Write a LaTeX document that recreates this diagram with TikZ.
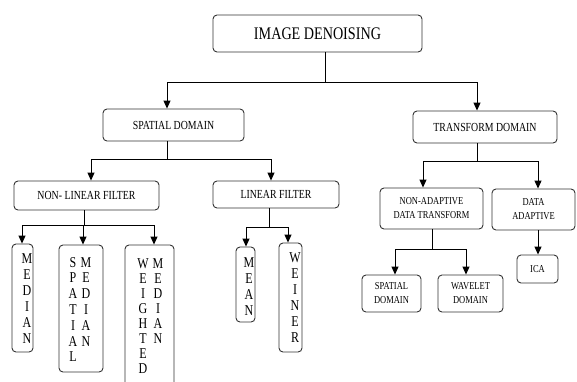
\documentclass[tikz,border=0pt]{standalone}
\usepackage{fontspec}
\setmainfont{Liberation Serif}[FakeStretch=0.8]
\usetikzlibrary{arrows.meta}
\tikzset{
  box/.style={draw=black!80, line width=0.9pt, rounded corners=4pt, inner sep=0pt, align=center},
  big/.style={font=\fontsize{17.7}{20}\selectfont},
  mid/.style={font=\fontsize{12.3}{14}\selectfont},
  small/.style={font=\fontsize{10.6}{14}\selectfont},
  conn/.style={draw=black, line width=0.9pt},
  arr/.style={conn, -{Triangle[length=8pt,width=7pt]}},
  vtext/.style={inner sep=0pt, align=center, anchor=north}
}
\begin{document}
\begin{tikzpicture}[x=1pt,y=-1pt]
\useasboundingbox (0,0) rectangle (577,381);
% boxes
\node[box, big, minimum width=209, minimum height=37] (root) at (317.5,33.5) {IMAGE DENOISING};
\node[box, mid, minimum width=141, minimum height=32] (sd) at (173.5,125) {SPATIAL DOMAIN};
\node[box, mid, minimum width=144, minimum height=32] (td) at (485,127) {TRANSFORM DOMAIN};
\node[box, mid, minimum width=145, minimum height=29] (nlf) at (86.5,195.5) {NON- LINEAR FILTER};
\node[box, mid, minimum width=126, minimum height=27] (lf) at (276,194.5) {LINEAR FILTER};
\node[box, small, minimum width=103, minimum height=41] (nad) at (431.5,208.5) {NON-ADAPTIVE\\DATA TRANSFORM};
\node[box, small, minimum width=83, minimum height=41] (dad) at (533.5,209.5) {DATA\\ADAPTIVE};
\node[box, small, minimum width=59, minimum height=37] (sdom) at (391.5,293.5) {SPATIAL\\DOMAIN};
\node[box, small, minimum width=65, minimum height=37] (wdom) at (470.5,293.5) {WAVELET\\DOMAIN};
\node[box, small, minimum width=41, minimum height=28] (ica) at (537.5,269) {ICA};
\node[box, minimum width=21, minimum height=108] (median) at (22.5,298) {};
\node[box, minimum width=44, minimum height=127] (smedian) at (81,308.5) {};
\node[box, minimum width=49, minimum height=150] (wmedian) at (149.5,320) {};
\node[box, minimum width=19, minimum height=75] (mean) at (245.5,284.5) {};
\node[box, minimum width=23, minimum height=109] (weiner) at (290.5,297.5) {};
% vertical texts
\node[vtext, font=\fontsize{15}{16}\selectfont] (tmedian) at (27,253) {M\\E\\D\\I\\A\\N};
\node[vtext, font=\fontsize{15}{15.8}\selectfont] (tspatial) at (73,257) {S\\P\\A\\T\\I\\A\\L};
\node[vtext, font=\fontsize{15}{15.8}\selectfont] (tsmed) at (86,257) {M\\E\\D\\I\\A\\N};
\node[vtext, font=\fontsize{15}{15}\selectfont] (tweighted) at (143,258) {W\\E\\I\\G\\H\\T\\E\\D};
\node[vtext, font=\fontsize{15}{15}\selectfont] (twmed) at (158,258) {M\\E\\D\\I\\A\\N};
\node[vtext, font=\fontsize{15}{16}\selectfont] (tmean) at (249,257) {M\\E\\A\\N};
\node[vtext, font=\fontsize{15}{16}\selectfont] (tweiner) at (295,252) {W\\E\\I\\N\\E\\R};
% connectors
\coordinate (j0) at (325,82);
\draw[conn] (root.south -| j0) -- (j0);
\draw[arr] (j0) -| ([xshift=-6.5pt]sd.north);
\draw[arr] (j0) -| ([xshift=-8pt]td.north);
\coordinate (j1) at (167,159);
\draw[conn] (sd.south -| j1) -- (j1);
\draw[arr] (j1) -| ([xshift=4.5pt]nlf.north);
\draw[arr] (j1) -| ([xshift=-5pt]lf.north);
\coordinate (j2) at (84,225);
\draw[conn] (nlf.south -| j2) -- (j2);
\draw[arr] (j2) -| ([xshift=-0.5pt]median.north);
\draw[arr] (j2) -| ([xshift=2pt]smedian.north);
\draw[arr] (j2) -| ([xshift=4.5pt]wmedian.north);
\coordinate (j3) at (269,227);
\draw[conn] (lf.south -| j3) -- (j3);
\draw[arr] (j3) -| ([xshift=0.5pt]mean.north);
\draw[arr] (j3) -| ([xshift=-2.5pt]weiner.north);
\coordinate (j4) at (477,161);
\draw[conn] (td.south -| j4) -- (j4);
\draw[arr] (j4) -| ([xshift=-8.5pt]nad.north);
\draw[arr] (j4) -| ([xshift=4.5pt]dad.north);
\coordinate (j5) at (432,249);
\draw[conn] (nad.south -| j5) -- (j5);
\draw[arr] (j5) -| ([xshift=3.5pt]sdom.north);
\draw[arr] (j5) -| ([xshift=-4.5pt]wdom.north);
\draw[arr] ([xshift=4.5pt]dad.south) -- ([xshift=0.5pt]ica.north);
\end{tikzpicture}
\end{document}
